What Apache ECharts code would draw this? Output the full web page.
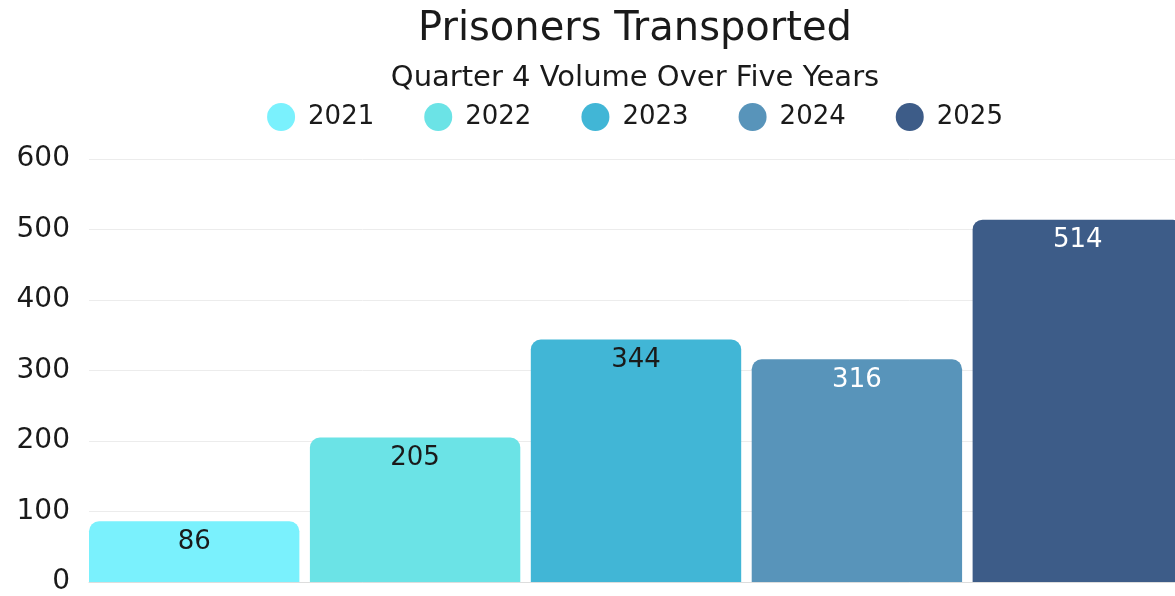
<!DOCTYPE html>
<html>
<head>
<meta charset="utf-8">
<script src="https://cdn.jsdelivr.net/npm/echarts@6/dist/echarts.min.js"></script>
<style>
html,body{margin:0;padding:0;overflow:hidden;background:#fff;}
#chart{width:1270px;height:596px;}
</style>
</head>
<body>
<div id="chart"></div>
<script>
const years = ['2021', '2022', '2023', '2024', '2025'];
const values = [86, 205, 344, 316, 514];
const colors = ['#7AF1FD', '#6BE3E6', '#41B6D6', '#5894BA', '#3D5C88'];
const labelColors = ['#1a1a1a', '#1a1a1a', '#1a1a1a', '#ffffff', '#ffffff'];
const yTicks = [0, 100, 200, 300, 400, 500, 600];

const FONT = 'DejaVu Sans';
const chart = echarts.init(document.getElementById('chart'), null, {renderer: 'canvas'});

const series = years.map((y, i) => ({
  name: y,
  type: 'bar',
  data: [values[i]],
  itemStyle: { color: colors[i], borderRadius: [10, 10, 0, 0] },
  barGap: '5%',
  barCategoryGap: '0%',
  label: {
    show: true,
    position: 'insideTop',
    distance: 8,
    color: labelColors[i],
    fontFamily: FONT,
    fontSize: 26
  }
}));

chart.setOption({
  animation: false,
  title: [
    { text: 'Prisoners Transported', left: 'center', top: 5,
      textStyle: { fontFamily: FONT, fontSize: 40, fontWeight: 'normal', color: '#1a1a1a' } },
    { text: 'Quarter 4 Volume Over Five Years', left: 'center', top: 59,
      textStyle: { fontFamily: FONT, fontSize: 29, fontWeight: 'normal', color: '#1a1a1a' } }
  ],
  legend: {
    top: 98,
    left: 'center',
    icon: 'circle',
    itemWidth: 28,
    itemHeight: 28,
    itemGap: 50,
    data: years,
    textStyle: { fontFamily: FONT, fontSize: 26, color: '#1a1a1a', padding: [0, 0, 0, 8] }
  },
  grid: { left: 89, right: 87, top: 159, bottom: 8, containLabel: false },
  xAxis: {
    type: 'category',
    data: ['Q4'],
    axisLabel: { show: false },
    axisTick: { show: false },
    axisLine: { lineStyle: { color: '#dddddd' } }
  },
  yAxis: {
    type: 'value',
    min: 0, max: 600, interval: 100,
    axisLabel: {
      fontFamily: FONT, fontSize: 28, color: '#1a1a1a', margin: 19,
      formatter: v => yTicks.includes(v) ? String(v) : ''
    },
    splitLine: { lineStyle: { color: '#ececec' } },
    axisLine: { show: false },
    axisTick: { show: false }
  },
  series: series
});
</script>
</body>
</html>
